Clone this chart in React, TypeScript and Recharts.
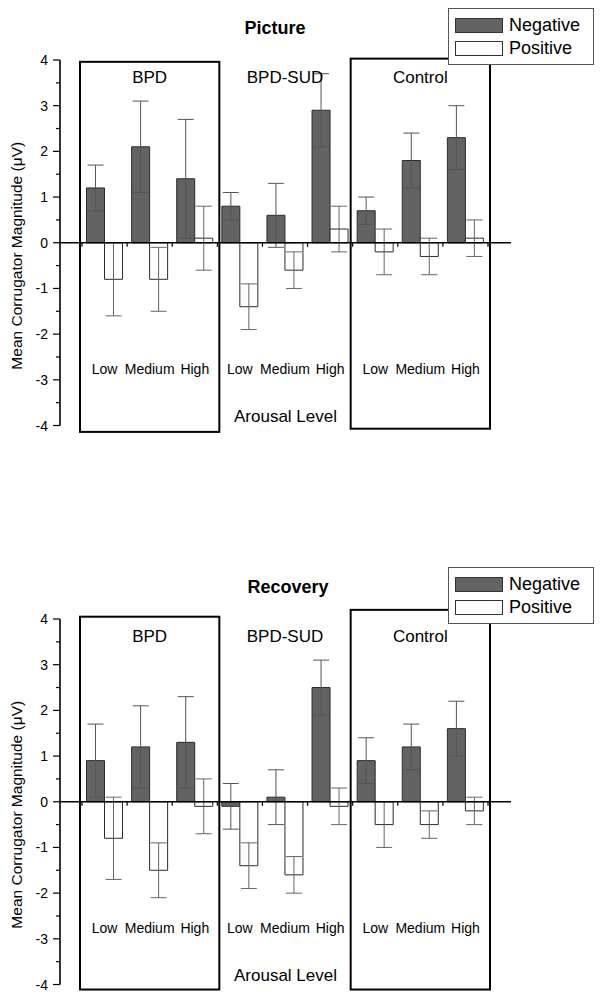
import React from "react";
import {
  BarChart,
  Bar,
  XAxis,
  YAxis,
  ErrorBar,
  ReferenceLine,
  ReferenceArea,
  Legend,
} from "recharts";

const FONT = "'Liberation Sans', Arial, Helvetica, sans-serif";

const GROUPS = ["BPD", "BPD-SUD", "Control"];
const LEVELS = ["Low", "Medium", "High"];
const Y_TICKS = [-4, -3.5, -3, -2.5, -2, -1.5, -1, -0.5, 0, 0.5, 1, 1.5, 2, 2.5, 3, 3.5, 4];

// Picture phase (BPD Low/Med/High, BPD-SUD Low/Med/High, Control Low/Med/High)
const pictureNegative = [1.2, 2.1, 1.4, 0.8, 0.6, 2.9, 0.7, 1.8, 2.3];
const pictureNegativeErr = [0.5, 1.0, 1.3, 0.3, 0.7, 0.8, 0.3, 0.6, 0.7];
const picturePositive = [-0.8, -0.8, 0.1, -1.4, -0.6, 0.3, -0.2, -0.3, 0.1];
const picturePositiveErr = [0.8, 0.7, 0.7, 0.5, 0.4, 0.5, 0.5, 0.4, 0.4];

// Recovery phase
const recoveryNegative = [0.9, 1.2, 1.3, -0.1, 0.1, 2.5, 0.9, 1.2, 1.6];
const recoveryNegativeErr = [0.8, 0.9, 1.0, 0.5, 0.6, 0.6, 0.5, 0.5, 0.6];
const recoveryPositive = [-0.8, -1.5, -0.1, -1.4, -1.6, -0.1, -0.5, -0.5, -0.2];
const recoveryPositiveErr = [0.9, 0.6, 0.6, 0.5, 0.4, 0.4, 0.5, 0.3, 0.3];

const W = 610;
const H = 446;
const Y_AXIS_W = 60;
const X_AXIS_H = 20;
const MARGIN = { top: 60, right: 99, bottom: 0.5, left: 0 };
const PLOT_BOTTOM = H - MARGIN.bottom - X_AXIS_H;

function buildRows(neg: number[], negErr: number[], pos: number[], posErr: number[]) {
  return GROUPS.flatMap((g, gi) =>
    LEVELS.map((l, li) => {
      const i = gi * 3 + li;
      return {
        key: `${g}|${l}`,
        negative: neg[i],
        negativeErr: negErr[i],
        positive: pos[i],
        positiveErr: posErr[i],
      };
    })
  );
}

function YTick(props: any) {
  const { x, y, payload } = props;
  const v = payload.value;
  const major = Number.isInteger(v);
  return (
    <g>
      <line x1={x - (major ? 7 : 4)} x2={x} y1={y} y2={y} stroke="#000" strokeWidth={1.2} />
      {major && (
        <text x={x - 12} y={y} dy={5} textAnchor="end" fontSize={14} fontFamily={FONT} fill="#000">
          {v}
        </text>
      )}
    </g>
  );
}

function XTick(props: any) {
  const { x, payload } = props;
  const level = String(payload.value).split("|")[1];
  return (
    <text x={x} y={PLOT_BOTTOM - 52} textAnchor="middle" fontSize={14} fontFamily={FONT} fill="#000">
      {level}
    </text>
  );
}

function renderLegend(props: any) {
  const items = props.payload || [];
  return (
    <div
      style={{
        width: 146,
        height: 57,
        boxSizing: "border-box",
        border: "1px solid #555",
        background: "#fff",
        position: "relative",
        fontFamily: FONT,
        fontSize: 18,
      }}
    >
      {items.map((it: any, i: number) => (
        <div key={it.value} style={{ position: "absolute", left: 6, top: 8 + i * 23, height: 16, display: "flex", alignItems: "center" }}>
          <div
            style={{
              width: 48,
              height: 15,
              boxSizing: "border-box",
              background: it.payload?.fill ?? it.color,
              border: "1px solid #333",
            }}
          />
          <span style={{ marginLeft: 6, lineHeight: "16px", color: "#000" }}>{it.value}</span>
        </div>
      ))}
    </div>
  );
}

const boxShape = (p: any) => (
  <rect x={p.x - 2} y={p.y} width={p.width + 4} height={p.height} fill="none" stroke="#000" strokeWidth={2} />
);

interface PanelProps {
  title: string;
  titleX: number;
  top: number;
  rows: ReturnType<typeof buildRows>;
  bpdBox: [number, number];
  controlBox: [number, number];
}

function Panel({ title, titleX, top, rows, bpdBox, controlBox }: PanelProps) {
  const plotMidY = MARGIN.top + (PLOT_BOTTOM - MARGIN.top) / 2 + 13;
  const lastKey = rows[rows.length - 1].key;
  return (
    <div style={{ position: "absolute", left: 0, top, width: W, height: H }}>
      <BarChart width={W} height={H} data={rows} margin={MARGIN} barCategoryGap={4.5} barGap={0}>
        <XAxis
          dataKey="key"
          height={X_AXIS_H}
          axisLine={false}
          tickLine={false}
          tickSize={0}
          tickMargin={0}
          interval={0}
          padding={{ left: 22, right: 23 }}
          tick={<XTick />}
          label={{
            content: () => (
              <text x={285.5} y={PLOT_BOTTOM - 4} textAnchor="middle" fontSize={17} fontFamily={FONT} fill="#000">
                Arousal Level
              </text>
            ),
          }}
        />
        <YAxis
          width={Y_AXIS_W}
          domain={[-4, 4]}
          ticks={Y_TICKS}
          interval={0}
          allowDataOverflow
          tickSize={0}
          tickMargin={0}
          tickLine={false}
          axisLine={{ stroke: "#000", strokeWidth: 1.6 }}
          tick={<YTick />}
          label={{
            content: () => (
              <text
                x={16}
                y={plotMidY}
                transform={`rotate(-90 16 ${plotMidY})`}
                textAnchor="middle"
                dominantBaseline="central"
                fontSize={15.5}
                fontFamily={FONT}
                fill="#000"
              >
                Mean Corrugator Magnitude (μV)
              </text>
            ),
          }}
        />
        <ReferenceArea
          x1="BPD|Low"
          x2="BPD|High"
          y1={bpdBox[0]}
          y2={bpdBox[1]}
          ifOverflow="visible"
          shape={boxShape}
        />
        <ReferenceArea
          x1="Control|Low"
          x2="Control|High"
          y1={controlBox[0]}
          y2={controlBox[1]}
          ifOverflow="visible"
          shape={boxShape}
        />
        {GROUPS.map((g) => (
          <ReferenceArea
            key={g}
            x1={`${g}|Low`}
            x2={`${g}|High`}
            y1={3.3}
            y2={3.96}
            fill="none"
            stroke="none"
            ifOverflow="visible"
            label={{ value: g, position: "center", fontSize: 17, fontFamily: FONT, fill: "#000" }}
          />
        ))}
        <Bar dataKey="negative" name="Negative" fill="#636363" stroke="#2b2b2b" strokeWidth={1} isAnimationActive={false}>
          <ErrorBar dataKey="negativeErr" width={8} stroke="#555" strokeWidth={1} direction="y" />
        </Bar>
        <Bar dataKey="positive" name="Positive" fill="#ffffff" stroke="#2b2b2b" strokeWidth={1} isAnimationActive={false}>
          <ErrorBar dataKey="positiveErr" width={8} stroke="#666" strokeWidth={1} direction="y" />
        </Bar>
        <ReferenceLine y={0} stroke="#000" strokeWidth={1.6} ifOverflow="visible" />
        {rows.map((r) => (
          <ReferenceLine
            key={`t-${r.key}`}
            segment={[
              { x: r.key, y: 0 },
              { x: r.key, y: -0.09 },
            ]}
            position="start"
            stroke="#000"
            strokeWidth={1.2}
            ifOverflow="visible"
          />
        ))}
        <ReferenceLine
          segment={[
            { x: lastKey, y: 0 },
            { x: lastKey, y: -0.09 },
          ]}
          position="end"
          stroke="#000"
          strokeWidth={1.2}
          ifOverflow="visible"
        />
        <Legend
          layout="horizontal"
          verticalAlign="middle"
          align="center"
          wrapperStyle={{ left: 448, top: 8, width: 146, height: 57 }}
          content={renderLegend}
        />
      </BarChart>
      <div
        style={{
          position: "absolute",
          left: titleX,
          top: 17,
          transform: "translateX(-50%)",
          fontFamily: FONT,
          fontWeight: "bold",
          fontSize: 18,
          lineHeight: "22px",
          whiteSpace: "nowrap",
        }}
      >
        {title}
      </div>
    </div>
  );
}

export default function App() {
  const pictureRows = buildRows(pictureNegative, pictureNegativeErr, picturePositive, picturePositiveErr);
  const recoveryRows = buildRows(recoveryNegative, recoveryNegativeErr, recoveryPositive, recoveryPositiveErr);
  return (
    <div style={{ position: "absolute", left: 0, top: 0, width: 610, height: 1005, overflow: "hidden", background: "#fff" }}>
      <Panel title="Picture" titleX={275} top={0} rows={pictureRows} bpdBox={[-4.14, 3.96]} controlBox={[-4.07, 4.03]} />
      <Panel title="Recovery" titleX={288} top={559} rows={recoveryRows} bpdBox={[-4.11, 4.05]} controlBox={[-4.11, 4.2]} />
    </div>
  );
}
